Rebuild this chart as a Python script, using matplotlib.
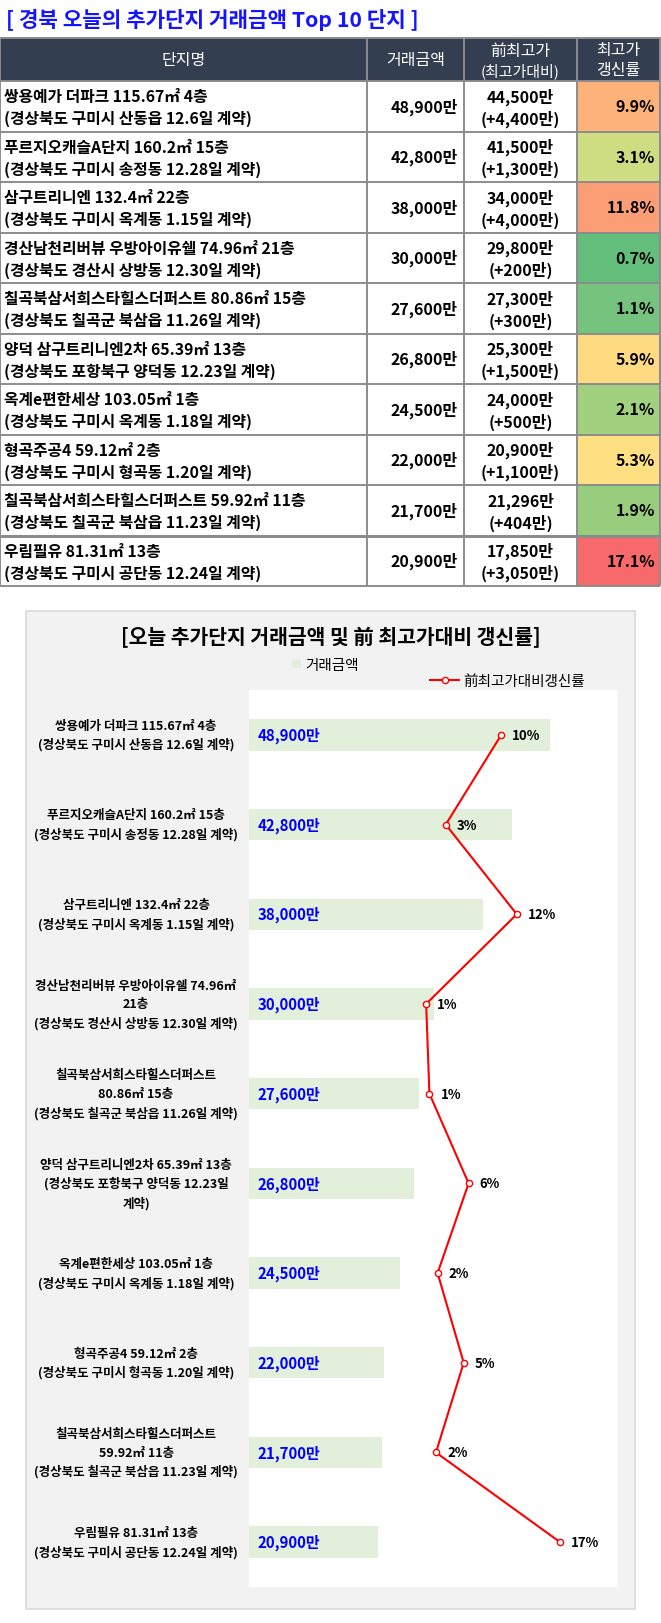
import numpy as np
import matplotlib
matplotlib.use("Agg")
import matplotlib.pyplot as plt
from matplotlib.patches import Rectangle
from matplotlib.transforms import blended_transform_factory

plt.rcParams['font.family'] = ['Noto Sans CJK KR', 'DejaVu Sans']

W, H = 661, 1624  # output size in px (dpi 100)

names = [
    "쌍용예가 더파크 115.67㎡ 4층",
    "푸르지오캐슬A단지 160.2㎡ 15층",
    "삼구트리니엔 132.4㎡ 22층",
    "경산남천리버뷰 우방아이유쉘 74.96㎡ 21층",
    "칠곡북삼서희스타힐스더퍼스트 80.86㎡ 15층",
    "양덕 삼구트리니엔2차 65.39㎡ 13층",
    "옥계e편한세상 103.05㎡ 1층",
    "형곡주공4 59.12㎡ 2층",
    "칠곡북삼서희스타힐스더퍼스트 59.92㎡ 11층",
    "우림필유 81.31㎡ 13층",
]
places = [
    "(경상북도 구미시 산동읍 12.6일 계약)",
    "(경상북도 구미시 송정동 12.28일 계약)",
    "(경상북도 구미시 옥계동 1.15일 계약)",
    "(경상북도 경산시 상방동 12.30일 계약)",
    "(경상북도 칠곡군 북삼읍 11.26일 계약)",
    "(경상북도 포항북구 양덕동 12.23일 계약)",
    "(경상북도 구미시 옥계동 1.18일 계약)",
    "(경상북도 구미시 형곡동 1.20일 계약)",
    "(경상북도 칠곡군 북삼읍 11.23일 계약)",
    "(경상북도 구미시 공단동 12.24일 계약)",
]
# category labels as wrapped in the chart
chart_labels = [
    "쌍용예가 더파크 115.67㎡ 4층\n(경상북도 구미시 산동읍 12.6일 계약)",
    "푸르지오캐슬A단지 160.2㎡ 15층\n(경상북도 구미시 송정동 12.28일 계약)",
    "삼구트리니엔 132.4㎡ 22층\n(경상북도 구미시 옥계동 1.15일 계약)",
    "경산남천리버뷰 우방아이유쉘 74.96㎡\n21층\n(경상북도 경산시 상방동 12.30일 계약)",
    "칠곡북삼서희스타힐스더퍼스트\n80.86㎡ 15층\n(경상북도 칠곡군 북삼읍 11.26일 계약)",
    "양덕 삼구트리니엔2차 65.39㎡ 13층\n(경상북도 포항북구 양덕동 12.23일\n계약)",
    "옥계e편한세상 103.05㎡ 1층\n(경상북도 구미시 옥계동 1.18일 계약)",
    "형곡주공4 59.12㎡ 2층\n(경상북도 구미시 형곡동 1.20일 계약)",
    "칠곡북삼서희스타힐스더퍼스트\n59.92㎡ 11층\n(경상북도 칠곡군 북삼읍 11.23일 계약)",
    "우림필유 81.31㎡ 13층\n(경상북도 구미시 공단동 12.24일 계약)",
]
amounts = [48900, 42800, 38000, 30000, 27600, 26800, 24500, 22000, 21700, 20900]
prev_high = [44500, 41500, 34000, 29800, 27300, 25300, 24000, 20900, 21296, 17850]
gains = [4400, 1300, 4000, 200, 300, 1500, 500, 1100, 404, 3050]
rates = [9.9, 3.1, 11.8, 0.7, 1.1, 5.9, 2.1, 5.3, 1.9, 17.1]

COL_X = [0, 367, 464, 577, 660]
HEAD_TOP, HEAD_BOT = 39, 82
ROW_H = 50.5
HEADER_BG = '#333F50'
GRID = '#8C8C8C'


def color_scale(v, vals):
    # excel style 3-colour scale: green - yellow - red
    lo, mid, hi = min(vals), np.median(vals), max(vals)
    g = np.array([99, 190, 123])
    y = np.array([255, 235, 132])
    r = np.array([248, 105, 107])
    if v <= mid:
        t = (v - lo) / (mid - lo)
        c = g + t * (y - g)
    else:
        t = (v - mid) / (hi - mid)
        c = y + t * (r - y)
    return c / 255.0


def draw_table(ax):
    ax.text(6, 20, "[ 경북 오늘의 추가단지 거래금액 Top 10 단지 ]", color='#1414FF',
            fontsize=15.3, fontweight='bold', ha='left', va='center')

    # header
    ax.add_patch(Rectangle((0, HEAD_TOP), COL_X[-1], HEAD_BOT - HEAD_TOP,
                           facecolor=HEADER_BG, edgecolor='none'))
    hy = (HEAD_TOP + HEAD_BOT) / 2
    ax.text((COL_X[0] + COL_X[1]) / 2, hy, "단지명", color='white', fontsize=11.5,
            ha='center', va='center')
    ax.text((COL_X[1] + COL_X[2]) / 2, hy, "거래금액", color='white', fontsize=11.5,
            ha='center', va='center')
    ax.text((COL_X[2] + COL_X[3]) / 2, hy - 9, "前최고가", color='white', fontsize=11.5,
            ha='center', va='center')
    ax.text((COL_X[2] + COL_X[3]) / 2, hy + 11, "(최고가대비)", color='white', fontsize=10.8,
            ha='center', va='center')
    ax.text((COL_X[3] + COL_X[4]) / 2, hy - 10, "최고가", color='white', fontsize=11.5,
            ha='center', va='center')
    ax.text((COL_X[3] + COL_X[4]) / 2, hy + 10, "갱신률", color='white', fontsize=11.5,
            ha='center', va='center')

    for i in range(len(names)):
        top = HEAD_BOT + i * ROW_H
        mid = top + ROW_H / 2
        ax.add_patch(Rectangle((COL_X[3], top), COL_X[4] - COL_X[3], ROW_H,
                               facecolor=color_scale(rates[i], rates), edgecolor='none'))
        ax.text(4, mid - 10, names[i], fontsize=11.4, fontweight='bold', ha='left', va='center')
        ax.text(4, mid + 12, places[i], fontsize=11.4, fontweight='bold', ha='left', va='center')
        ax.text(COL_X[2] - 6, mid, f"{amounts[i]:,}만", fontsize=11.5, fontweight='bold',
                ha='right', va='center')
        cx = (COL_X[2] + COL_X[3]) / 2
        ax.text(cx, mid - 10, f"{prev_high[i]:,}만", fontsize=11.5, fontweight='bold',
                ha='center', va='center')
        ax.text(cx, mid + 12, f"(+{gains[i]:,}만)", fontsize=11.5, fontweight='bold',
                ha='center', va='center')
        ax.text(COL_X[4] - 5, mid, f"{rates[i]:.1f}%", fontsize=11.5, fontweight='bold',
                ha='right', va='center')

    # grid lines
    bottom = HEAD_BOT + len(names) * ROW_H
    for i in range(len(names) + 1):
        yy = HEAD_BOT + i * ROW_H
        lw = 2.2 if i == len(names) - 1 else 1.4
        ax.plot([0, COL_X[-1]], [yy, yy], color=GRID, lw=lw, solid_capstyle='butt')
    ax.plot([0, COL_X[-1]], [HEAD_TOP, HEAD_TOP], color=GRID, lw=1.4)
    for x in COL_X:
        ax.plot([x, x], [HEAD_TOP, bottom], color=GRID, lw=1.4, solid_capstyle='butt')


fig = plt.figure(figsize=(W / 100, H / 100), dpi=100)
bg = fig.add_axes([0, 0, 1, 1])
bg.set_xlim(0, W)
bg.set_ylim(H, 0)
bg.axis('off')

draw_table(bg)

# chart frame
bg.add_patch(Rectangle((26, 612), 609, 998, facecolor='#F2F2F2', edgecolor='#D9D9D9', lw=1.2))
bg.text(330.5, 638, "[오늘 추가단지 거래금액 및 前 최고가대비 갱신률]", fontsize=14.7,
        fontweight='bold', ha='center', va='center')

# plot area
px_l, px_t, px_r, px_b = 249, 691, 618, 1588
ax = fig.add_axes([px_l / W, 1 - px_b / H, (px_r - px_l) / W, (px_b - px_t) / H])
ax.set_facecolor('white')
ypos = np.arange(len(amounts))
bars = ax.barh(ypos, amounts, height=0.35, color='#E2EFDA', label='거래금액')
ax.set_xlim(0, 60000)
ax.set_ylim(len(amounts) - 0.5, -0.5)
for i, a in enumerate(amounts):
    ax.annotate(f"{a:,}만", xy=(0, i), xytext=(6, 0), textcoords='offset points',
                color='#0000FF', fontsize=10.8, fontweight='bold', ha='left', va='center')

trans = blended_transform_factory(ax.transAxes, ax.transData)
for i, lab in enumerate(chart_labels):
    ax.text(-0.306, i, lab, transform=trans, fontsize=9, fontweight='bold',
            ha='center', va='center', linespacing=1.55)

ax2 = ax.twiny()
line, = ax2.plot(rates, ypos, color='#FF0000', lw=1.5, marker='o', markersize=4.5,
                 markerfacecolor='white', markeredgecolor='#FF0000', markeredgewidth=1.0,
                 label='前최고가대비갱신률')
ax2.set_xlim(-21, 24.2)
for i, r in enumerate(rates):
    ax2.annotate(f"{r:.0f}%", xy=(r, i), xytext=(8, 0), textcoords='offset points',
                 fontsize=9.5, fontweight='bold', ha='left', va='center')

for a in (ax, ax2):
    a.set_xticks([])
    a.set_yticks([])
    for s in a.spines.values():
        s.set_visible(False)

fig.legend(handles=[bars], loc='center left', bbox_to_anchor=(292 / W, 1 - 666 / H),
           frameon=False, fontsize=10.5, handlelength=0.6, handleheight=0.6,
           handletextpad=0.3, borderpad=0, borderaxespad=0)
fig.legend(handles=[line], loc='center left', bbox_to_anchor=(430 / W, 1 - 682 / H),
           frameon=False, fontsize=10.5, handlelength=2.0, handletextpad=0.3,
           numpoints=1, borderpad=0, borderaxespad=0)

fig.savefig('out.png', dpi=100)
